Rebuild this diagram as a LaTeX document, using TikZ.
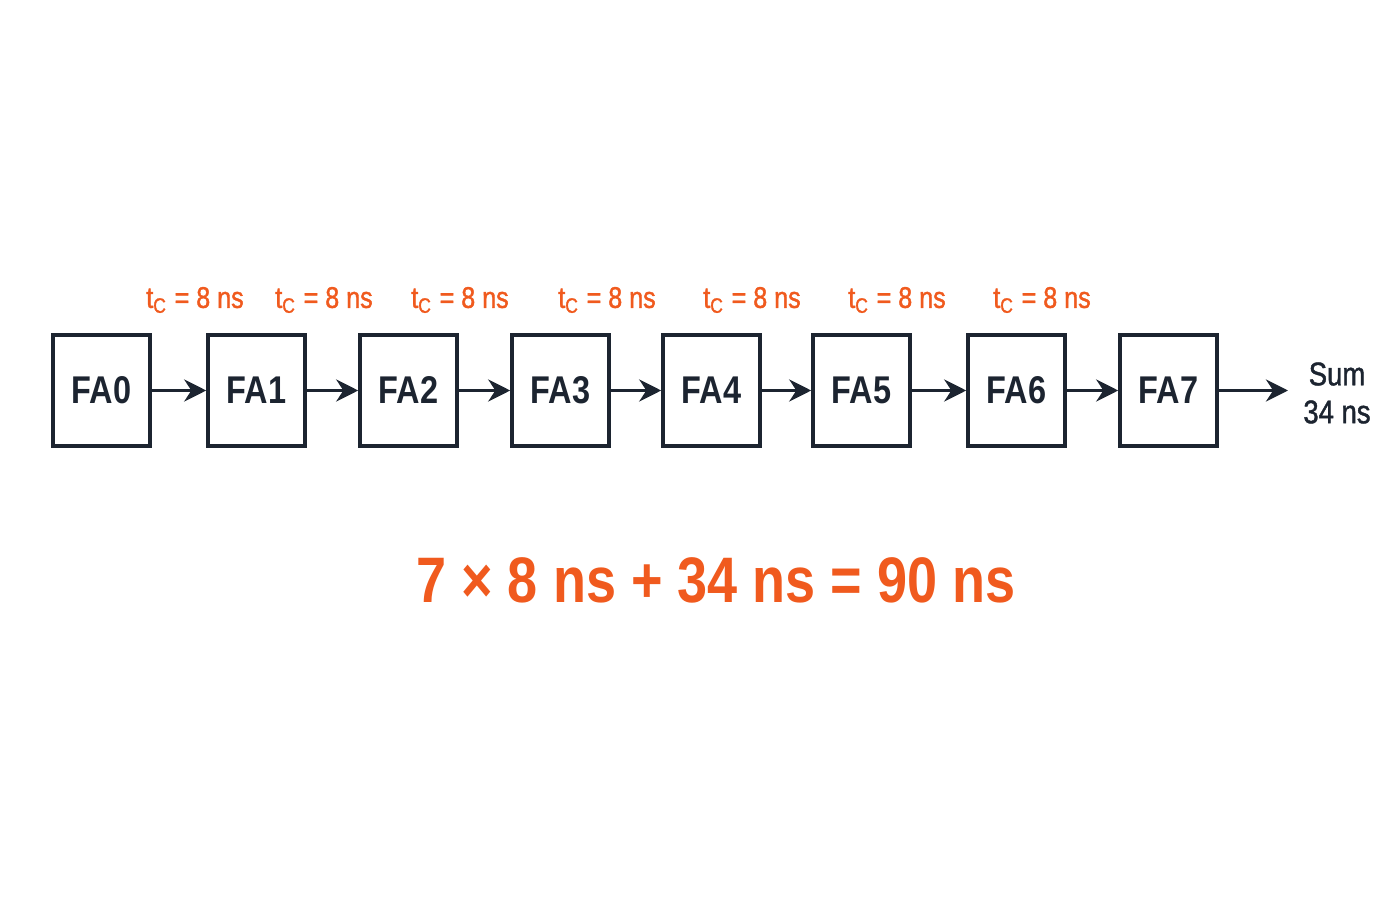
\documentclass[tikz,border=0pt]{standalone}
\usepackage{fontspec}
\usetikzlibrary{arrows.meta}
\setmainfont{Liberation Sans}[FakeStretch=0.84]
\newfontfamily\medfont{Liberation Sans}[FakeStretch=0.84, FakeBold=1.3]
\definecolor{delay}{HTML}{F05A1E}
\definecolor{ink}{HTML}{1C2430}
\tikzset{
  fabox/.style={draw=ink, line width=1pt, minimum width=0.97cm, minimum height=1.11cm,
    inner sep=0pt, text=ink, font=\fontsize{11}{13}\selectfont\bfseries},
  tclabel/.style={text=delay, font=\fontsize{8.5}{10}\medfont},
  carry/.style={draw=ink, line width=1.1pt, -{Stealth[length=2.2mm,width=2.2mm]}}
}
\begin{document}
\begin{tikzpicture}
  \useasboundingbox (0,0) rectangle (14,9);
  \draw[draw=none]
    (1.015,5.095) node[fabox] (0){FA0}
    (2.565,5.095) node[fabox] (1){FA1}
    (4.085,5.095) node[fabox] (2){FA2}
    (5.605,5.095) node[fabox] (3){FA3}
    (7.115,5.095) node[fabox] (4){FA4}
    (8.615,5.095) node[fabox] (5){FA5}
    (10.165,5.095) node[fabox] (6){FA6}
    (11.685,5.095) node[fabox] (7){FA7};
  \coordinate (out) at (12.88,5.095);
  \node[text=ink, align=center, font=\fontsize{9.3}{10.8}\medfont] (sum) at (13.37,5.07) {Sum\\34 ns};
  \node[tclabel] (t0) at (1.95,6.0) {t\textsubscript{C} = 8 ns};
  \node[tclabel] (t1) at (3.24,6.0) {t\textsubscript{C} = 8 ns};
  \node[tclabel] (t2) at (4.60,6.0) {t\textsubscript{C} = 8 ns};
  \node[tclabel] (t3) at (6.07,6.0) {t\textsubscript{C} = 8 ns};
  \node[tclabel] (t4) at (7.52,6.0) {t\textsubscript{C} = 8 ns};
  \node[tclabel] (t5) at (8.97,6.0) {t\textsubscript{C} = 8 ns};
  \node[tclabel] (t6) at (10.42,6.0) {t\textsubscript{C} = 8 ns};
  \node[text=delay, font=\fontsize{18.3}{22}\selectfont\bfseries] (total) at (7.16,3.2)
    {7 × 8 ns + 34 ns = 90 ns};
  \begin{scope}[carry]
    \draw (0) to (1);
    \draw (1) to (2);
    \draw (2) to (3);
    \draw (3) to (4);
    \draw (4) to (5);
    \draw (5) to (6);
    \draw (6) to (7);
    \draw (7) to (out);
  \end{scope}
\end{tikzpicture}
\end{document}
